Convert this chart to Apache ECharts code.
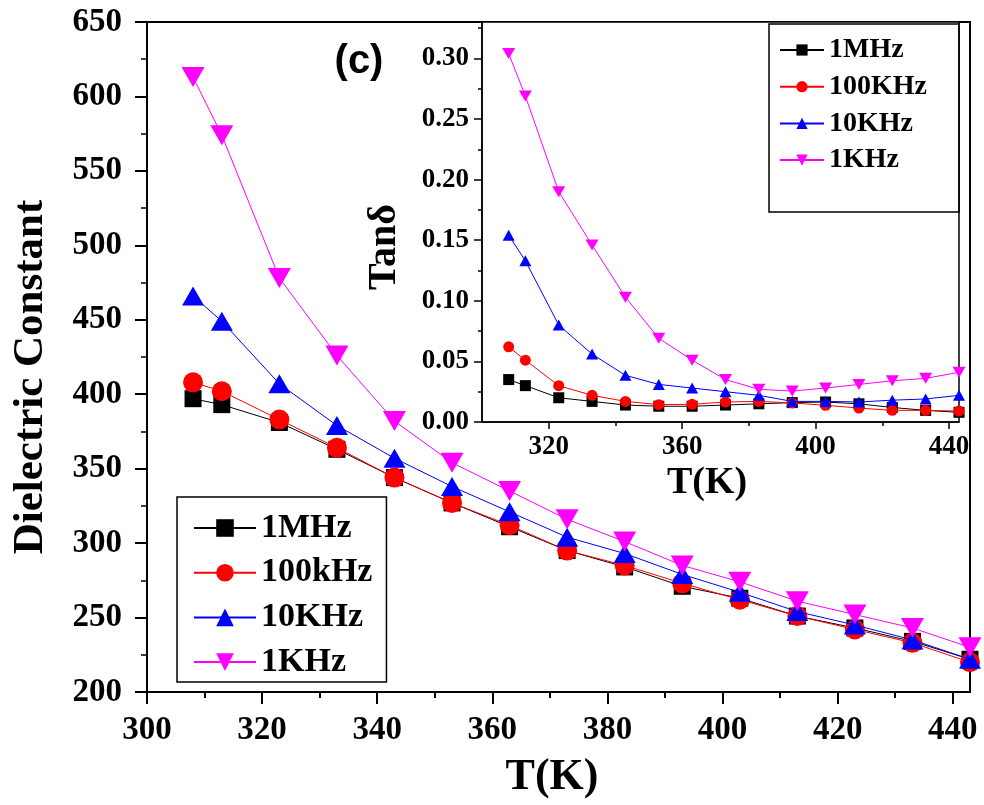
<!DOCTYPE html>
<html>
<head>
<meta charset="utf-8">
<script src="https://cdn.jsdelivr.net/npm/echarts@6.0.0/dist/echarts.min.js"></script>
<style>
  html, body { margin: 0; padding: 0; background: #fff; }
  #chart { width: 984px; height: 805px; }
</style>
</head>
<body>
<div id="chart"></div>
<script>
// ---- data ----
const temps = [308, 313, 323, 333, 343, 353, 363, 373, 383, 393, 403, 413, 423, 433, 443];

// Dielectric constant (main plot)
const eps1MHz   = [397, 393, 381, 363, 344, 327, 311, 295, 284, 271, 263, 251, 243, 234, 222];
const eps100kHz = [408, 402, 383, 364, 344, 327, 312, 295, 285, 273, 262, 251, 242, 233, 220];
const eps10KHz  = [466, 449, 407, 379, 357, 338, 321, 304, 293, 279, 267, 254, 245, 235, 222];
const eps1KHz   = [613, 574, 478, 426, 382, 354, 335, 316, 301, 285, 274, 261, 252, 243, 230];

// Tan delta (inset)
const tan1MHz   = [0.035, 0.030, 0.020, 0.017, 0.014, 0.013, 0.013, 0.014, 0.015, 0.016, 0.0165, 0.015, 0.012, 0.0096, 0.008];
const tan100KHz = [0.062, 0.051, 0.030, 0.022, 0.017, 0.0143, 0.0146, 0.0165, 0.017, 0.0157, 0.0138, 0.0115, 0.0096, 0.0096, 0.009];
const tan10KHz  = [0.154, 0.133, 0.080, 0.056, 0.0385, 0.031, 0.028, 0.025, 0.022, 0.017, 0.017, 0.0165, 0.018, 0.019, 0.022];
const tan1KHz   = [0.304, 0.269, 0.190, 0.146, 0.103, 0.069, 0.051, 0.035, 0.027, 0.0255, 0.028, 0.031, 0.034, 0.036, 0.041];

// tick labels
const mainXTicks  = [300, 320, 340, 360, 380, 400, 420, 440];
const mainXMinor  = [310, 330, 350, 370, 390, 410, 430];
const insetXTicks = [320, 360, 400, 440];
const insetXMinor = [340, 380, 420];
const insetYTicks = [0, 0.05, 0.10, 0.15, 0.20, 0.25, 0.30];
const insetYMinor = [0.025, 0.075, 0.125, 0.175, 0.225, 0.275, 0.325];

const mainNames  = ['1MHz', '100kHz', '10KHz', '1KHz'];
const insetNames = ['1MHz', '100KHz', '10KHz', '1KHz'];

const SERIF = 'Liberation Serif';
const SANS = 'Liberation Sans';

const colors  = ['#000000', '#ff0000', '#0000ff', '#ff00ff'];
const symbols = ['rect', 'circle', 'triangle', 'triangle'];
const rotates = [0, 0, 0, 180];
const mainSizes  = [17, 20, [22, 19], [23, 20]];
const insetSizes = [11, 11, [12, 11], [13, 11]];

function pairs(xs, ys) { return xs.map((x, i) => [x, ys[i]]); }

const mainData  = [eps1MHz, eps100kHz, eps10KHz, eps1KHz];
const insetData = [tan1MHz, tan100KHz, tan10KHz, tan1KHz];

const series = [];
mainData.forEach((d, i) => {
  series.push({
    name: mainNames[i], type: 'line', xAxisIndex: 0, yAxisIndex: 0,
    data: pairs(temps, d), symbol: symbols[i], symbolRotate: rotates[i],
    symbolSize: mainSizes[i], showSymbol: true, color: colors[i],
    itemStyle: { color: colors[i] }, lineStyle: { color: colors[i], width: 1 },
    z: 2 + i, animation: false
  });
});
insetData.forEach((d, i) => {
  series.push({
    name: insetNames[i], type: 'line', xAxisIndex: 2, yAxisIndex: 1,
    data: pairs(temps, d), symbol: symbols[i], symbolRotate: rotates[i],
    symbolSize: insetSizes[i], showSymbol: true, color: colors[i],
    itemStyle: { color: colors[i] }, lineStyle: { color: colors[i], width: 1 },
    z: 10 + i, animation: false
  });
});

const axisLineStyle = { color: '#000', width: 2 };
const insetLineStyle = { color: '#000', width: 1.5 };
const mainLabel = { fontFamily: SERIF, fontWeight: 'bold', fontSize: 33, color: '#000' };
const insetLabel = { fontFamily: SERIF, fontWeight: 'bold', fontSize: 27, color: '#000' };

const option = {
  backgroundColor: '#fff',
  animation: false,
  textStyle: { fontFamily: SERIF },
  grid: [
    { left: 147, top: 22, width: 823, height: 670, show: true, borderColor: '#000', borderWidth: 2, backgroundColor: 'transparent', containLabel: false },
    { left: 482, top: 22, width: 477, height: 400, show: true, borderColor: '#000', borderWidth: 1.5, backgroundColor: '#fff', containLabel: false, z: 5 }
  ],
  xAxis: [
    { type: 'value', gridIndex: 0, position: 'bottom', min: 300, max: 443,
      axisLine: { show: true, lineStyle: axisLineStyle },
      axisTick: { show: true, customValues: mainXTicks, length: 12, lineStyle: axisLineStyle },
      axisLabel: Object.assign({ customValues: mainXTicks, margin: 22 }, mainLabel),
      splitLine: { show: false },
      name: 'T(K)', nameLocation: 'middle', nameGap: 64,
      nameTextStyle: { fontFamily: SERIF, fontWeight: 'bold', fontSize: 44, color: '#000', padding: [0, 13, 0, 0] }
    },
    { type: 'value', gridIndex: 0, position: 'bottom', min: 300, max: 443,
      axisLine: { show: false },
      axisTick: { show: true, customValues: mainXMinor, length: 6, lineStyle: axisLineStyle },
      axisLabel: { show: false }, splitLine: { show: false }
    },
    { type: 'value', gridIndex: 1, position: 'bottom', min: 300, max: 443,
      axisLine: { show: true, lineStyle: insetLineStyle },
      axisTick: { show: true, customValues: insetXTicks, length: 7, lineStyle: insetLineStyle },
      axisLabel: Object.assign({ customValues: insetXTicks, margin: 12 }, insetLabel),
      splitLine: { show: false }, z: 6
    },
    { type: 'value', gridIndex: 1, position: 'bottom', min: 300, max: 443,
      axisLine: { show: false },
      axisTick: { show: true, customValues: insetXMinor, length: 4, lineStyle: insetLineStyle },
      axisLabel: { show: false }, splitLine: { show: false }, z: 6
    }
  ],
  yAxis: [
    { type: 'value', gridIndex: 0, position: 'left', min: 200, max: 650, interval: 50,
      axisLine: { show: true, lineStyle: axisLineStyle },
      axisTick: { show: true, length: 12, lineStyle: axisLineStyle },
      minorTick: { show: true, splitNumber: 2, length: 6, lineStyle: { color: '#000', width: 1.5 } },
      axisLabel: Object.assign({ margin: 25 }, mainLabel),
      splitLine: { show: false }, minorSplitLine: { show: false },
      name: 'Dielectric Constant', nameLocation: 'middle', nameGap: 95,
      nameTextStyle: { fontFamily: SERIF, fontWeight: 'bold', fontSize: 43, color: '#000', padding: [0, 40, 0, 0] }
    },
    { type: 'value', gridIndex: 1, position: 'left', min: 0, max: 0.33,
      axisLine: { show: true, lineStyle: insetLineStyle },
      axisTick: { show: true, customValues: insetYTicks, length: 8, lineStyle: insetLineStyle },
      axisLabel: Object.assign({ customValues: insetYTicks, formatter: v => v.toFixed(2), margin: 13 }, insetLabel),
      splitLine: { show: false }, z: 6
    },
    { type: 'value', gridIndex: 1, position: 'left', min: 0, max: 0.33,
      axisLine: { show: false },
      axisTick: { show: true, customValues: insetYMinor, length: 4, lineStyle: insetLineStyle },
      axisLabel: { show: false }, splitLine: { show: false }, z: 6
    }
  ],
  legend: [
    { data: mainNames, orient: 'vertical', left: 177, top: 497,
      itemWidth: 62, itemHeight: 22, itemGap: 10.7,
      padding: [14, 14, 3, 16], borderColor: '#000', borderWidth: 1.5,
      selectedMode: false,
      textStyle: { fontFamily: SERIF, fontWeight: 'bold', fontSize: 34, lineHeight: 34, color: '#000' }
    },
    { data: insetNames, orient: 'vertical', left: 769, top: 24,
      itemWidth: 44, itemHeight: 14, itemGap: 8.7,
      padding: [12, 32, 38, 10], borderColor: '#000', borderWidth: 1.5,
      selectedMode: false, z: 20,
      textStyle: { fontFamily: SERIF, fontWeight: 'bold', fontSize: 28, lineHeight: 28, color: '#000' }
    }
  ],
  graphic: [
    { type: 'text', x: 359, y: 62, z: 30,
      style: { text: '(c)', font: 'bold 40px ' + SANS, fill: '#000', align: 'center', verticalAlign: 'middle' } },
    { type: 'text', x: 385, y: 247, rotation: Math.PI / 2, z: 30,
      style: { text: 'Tanδ', font: 'bold 40px ' + SERIF, fill: '#000', align: 'center', verticalAlign: 'middle' } },
    { type: 'text', x: 707, y: 483, z: 30,
      style: { text: 'T(K)', font: 'bold 38px ' + SERIF, fill: '#000', align: 'center', verticalAlign: 'middle' } }
  ],
  series: series
};

const chart = echarts.init(document.getElementById('chart'), null, { renderer: 'canvas' });
chart.setOption(option);
</script>
</body>
</html>
